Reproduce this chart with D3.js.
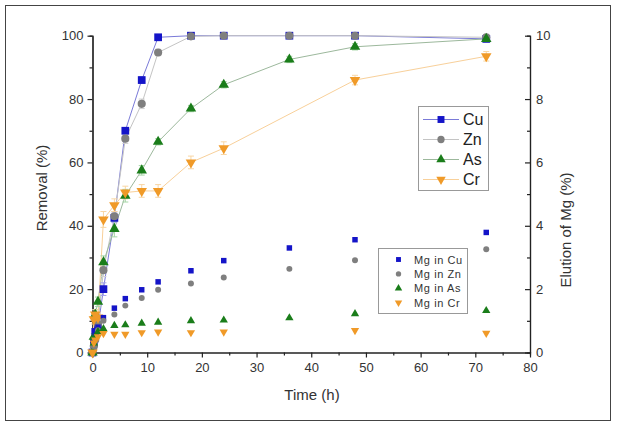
<!DOCTYPE html>
<html><head><meta charset="utf-8">
<script src="https://cdn.jsdelivr.net/npm/d3@7"></script>
<style>body{margin:0;background:#fff}svg{display:block;font-family:"Liberation Sans",Arial,sans-serif}</style>
</head><body><svg id="c" width="617" height="429"></svg>
<script>
// ---- data ----
const timesRemoval = [0,0.25,0.5,1,2,4,6,9,12,18,24,36,48,72];
const timesCr = [0,0.25,0.5,1,2,4,6,9,12,18,24,48,72];
const removalCu = [0,3,6.5,8,20,42.5,70,86,99.5,100,100,100,100,99];
const removalZn = [0,2,4,9,26,43,67.5,78.5,94.7,99.8,100,100,100,99.5];
const removalAs = [0,5,12,16,28.5,39,49.5,57.5,66.5,77,84.5,92.5,96.5,99];
const removalCr = [0,10.5,12,11,42,46.5,50.5,51,51,60,64.5,86,93.5];
const errCu = [0,1,1,1,2,1.5,1,1,0.5,0.5,0.5,0.5,0.5,0.5];
const errZn = [0,1,1,1,2,1.5,1.5,1.5,1,0.5,0.5,0.5,0.5,0.5];
const errAs = [0,1,1.5,1.5,2,2.5,2,1.5,1,1,1,1,1,1];
const errCr = [0,1.5,1.5,1.5,2.5,2,2,2,2,2,2,1.5,1.5];
const timesMg = [0.25,0.5,1,2,4,6,9,12,18,24,36,48,72];
const mgCu = [0.3,0.6,0.8,1.1,1.4,1.7,1.98,2.23,2.58,2.9,3.3,3.56,3.79];
const mgZn = [0.2,0.4,0.7,1.0,1.2,1.48,1.72,1.98,2.18,2.37,2.64,2.91,3.26];
const mgAs = [0.3,0.5,0.65,0.75,0.85,0.87,0.92,0.95,1.0,1.02,1.09,1.22,1.32];
const mgCr = [0.3,0.4,0.5,0.6,0.58,0.58,0.63,0.65,0.63,0.65,null,0.70,0.61];
const seriesNames = ["Cu","Zn","As","Cr"];
const mgNames = ["Mg in Cu","Mg in Zn","Mg in As","Mg in Cr"];
const xTicks = [0,10,20,30,40,50,60,70,80];
const xMinor = [5,15,25,35,45,55,65,75];
const yLTicks = [0,20,40,60,80,100];
const yLMinor = [10,30,50,70,90];
const yRTicks = [0,2,4,6,8,10];
const yRMinor = [1,3,5,7,9];

// ---- styles ----
const markerColor = ["#1414c8","#7f7f7f","#1a7d1a","#f09a28"];
const lineColor = ["#7a7ad8","#c4c4c4","#9cb89c","#f8d09a"];
const errColor = ["#a4a4ea","#cfcfcf","#a6d6a6","#f8d6a4"];
const symTypes = [d3.symbolSquare,d3.symbolCircle,d3.symbolTriangle,d3.symbolTriangle];
const symRot = [0,0,0,180];

const svg = d3.select("#c");
svg.append("rect").attr("x",5.5).attr("y",5.5).attr("width",605).attr("height",415)
  .attr("fill","none").attr("stroke","#444").attr("stroke-width",1);

const x = d3.scaleLinear().domain([0,80]).range([92.5,530]);
const yL = d3.scaleLinear().domain([0,100]).range([352.5,35.7]);
const yR = d3.scaleLinear().domain([0,10]).range([352.5,35.7]);

function styleAxis(g){
  g.selectAll("path,line").attr("stroke","#222").attr("stroke-width",1.2);
  g.selectAll("text").attr("fill","#333").attr("font-size",13).attr("font-family","Liberation Sans, Arial, sans-serif");
}
// minor ticks
svg.append("g").attr("transform","translate(92.5,0)")
  .call(d3.axisLeft(yL).tickValues(yLMinor).tickSize(3).tickFormat("")).call(styleAxis);
svg.append("g").attr("transform","translate(530,0)")
  .call(d3.axisRight(yR).tickValues(yRMinor).tickSize(-3).tickFormat("")).call(styleAxis);
svg.append("g").attr("transform","translate(0,352.5)")
  .call(d3.axisBottom(x).tickValues(xMinor).tickSize(3).tickFormat("")).call(styleAxis);
// major axes
svg.append("g").attr("transform","translate(92.5,0)")
  .call(d3.axisLeft(yL).tickValues(yLTicks).tickSizeInner(5).tickSizeOuter(0).tickPadding(4)).call(styleAxis);
svg.append("g").attr("transform","translate(530,0)")
  .call(d3.axisRight(yR).tickValues(yRTicks).tickSizeInner(-5).tickSizeOuter(0).tickPadding(6)).call(styleAxis);
svg.append("g").attr("transform","translate(0,352.5)")
  .call(d3.axisBottom(x).tickValues(xTicks).tickSizeInner(5).tickSizeOuter(0).tickPadding(5)).call(styleAxis);

// axis titles
svg.append("text").attr("transform","translate(47,188) rotate(-90)").attr("text-anchor","middle")
  .attr("font-size",15).attr("fill","#333").text("Removal (%)");
svg.append("text").attr("transform","translate(571,230) rotate(-90)").attr("text-anchor","middle")
  .attr("font-size",15).attr("fill","#333").text("Elution of Mg (%)");
svg.append("text").attr("x",312).attr("y",400).attr("text-anchor","middle")
  .attr("font-size",15).attr("fill","#333").text("Time (h)");

// removal series
const removal = [
  {t:timesRemoval,v:removalCu,e:errCu},
  {t:timesRemoval,v:removalZn,e:errZn},
  {t:timesRemoval,v:removalAs,e:errAs},
  {t:timesCr,v:removalCr,e:errCr}
];
const line = d3.line().x(d=>x(d[0])).y(d=>yL(d[1]));
removal.forEach((s,i)=>{
  const pts = s.t.map((t,k)=>[t,s.v[k],s.e[k]]);
  svg.append("path").datum(pts).attr("d",line).attr("fill","none")
    .attr("stroke",lineColor[i]).attr("stroke-width",1);
});
removal.forEach((s,i)=>{
  const pts = s.t.map((t,k)=>[t,s.v[k],s.e[k]]);
  const g = svg.append("g").attr("stroke",errColor[i]).attr("stroke-width",1);
  pts.filter(d=>d[2]>0).forEach(d=>{
    const cx = x(d[0]), y1 = yL(d[1]-d[2]), y2 = yL(d[1]+d[2]);
    g.append("line").attr("x1",cx).attr("x2",cx).attr("y1",y1).attr("y2",y2);
    g.append("line").attr("x1",cx-3).attr("x2",cx+3).attr("y1",y1).attr("y2",y1);
    g.append("line").attr("x1",cx-3).attr("x2",cx+3).attr("y1",y2).attr("y2",y2);
  });
});
const bigSize = [60,52,48,48];
removal.forEach((s,i)=>{
  const pts = s.t.map((t,k)=>[t,s.v[k]]);
  svg.append("g").selectAll("path").data(pts).join("path")
    .attr("d",d3.symbol().type(symTypes[i]).size(bigSize[i]))
    .attr("transform",d=>`translate(${x(d[0])},${yL(d[1])}) rotate(${symRot[i]})`)
    .attr("fill",markerColor[i]);
});

// Mg series
const mg = [mgCu,mgZn,mgAs,mgCr];
const smallSize = [30,28,30,30];
mg.forEach((vals,i)=>{
  const pts = timesMg.map((t,k)=>[t,vals[k]]).filter(d=>d[1]!=null);
  svg.append("g").selectAll("path").data(pts).join("path")
    .attr("d",d3.symbol().type(symTypes[i]).size(smallSize[i]))
    .attr("transform",d=>`translate(${x(d[0])},${yR(d[1])}) rotate(${symRot[i]})`)
    .attr("fill",markerColor[i]);
});

// legend 1
const l1 = svg.append("g");
l1.append("rect").attr("x",418.5).attr("y",106.5).attr("width",70).attr("height",84)
  .attr("fill","#fff").attr("stroke","#999");
seriesNames.forEach((n,i)=>{
  const yy = 119.5 + i*20;
  l1.append("line").attr("x1",423).attr("x2",459).attr("y1",yy).attr("y2",yy)
    .attr("stroke",lineColor[i]).attr("stroke-width",1);
  l1.append("path").attr("d",d3.symbol().type(symTypes[i]).size(bigSize[i]*0.8))
    .attr("transform",`translate(441,${yy}) rotate(${symRot[i]})`).attr("fill",markerColor[i]);
  l1.append("text").attr("x",463).attr("y",yy+5.5).attr("font-size",16).attr("fill","#222").text(n);
});
// legend 2
const l2 = svg.append("g");
l2.append("rect").attr("x",378.5).attr("y",248.5).attr("width",89).attr("height",65)
  .attr("fill","#fff").attr("stroke","#999");
mgNames.forEach((n,i)=>{
  const yy = 259.5 + i*14.4;
  l2.append("path").attr("d",d3.symbol().type(symTypes[i]).size(smallSize[i]*0.8))
    .attr("transform",`translate(398.5,${yy}) rotate(${symRot[i]})`).attr("fill",markerColor[i]);
  l2.append("text").attr("x",414).attr("y",yy+4).attr("font-size",11).attr("letter-spacing",0.6)
    .attr("fill","#333").text(n);
});
</script></body></html>
